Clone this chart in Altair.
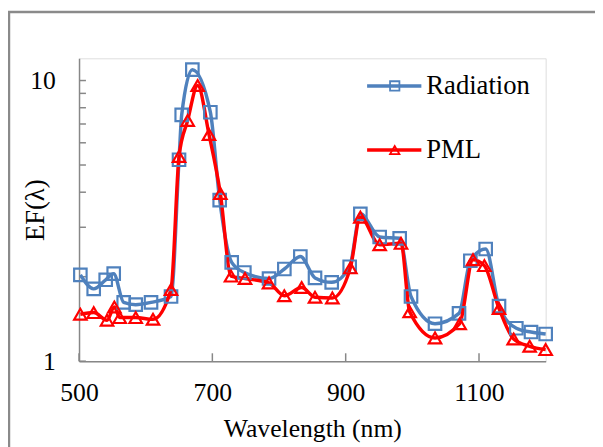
import altair as alt
import pandas as pd

series = ["Radiation", "PML"]

rad_x = [502, 522, 540, 552, 567, 585, 608, 638, 650, 654, 670, 697, 711, 729, 748,
         785, 808, 832, 854, 879, 906, 922, 951, 981, 998, 1034, 1070, 1087, 1110,
         1130, 1156, 1178, 1200]
rad_y = [2.03, 1.81, 1.95, 2.05, 1.62, 1.59, 1.62, 1.70, 5.22, 7.54, 10.93, 7.71,
         3.75, 2.25, 2.07, 1.97, 2.13, 2.36, 1.98, 1.91, 2.17, 3.35, 2.77, 2.74,
         1.70, 1.36, 1.48, 2.28, 2.51, 1.57, 1.31, 1.27, 1.25]

pml_x = [502, 522, 542, 553, 561, 585, 611, 638, 650, 663, 678, 695, 712, 728, 749,
         785, 808, 834, 854, 880, 907, 922, 951, 983, 996, 1034, 1071, 1091, 1108,
         1130, 1152, 1176, 1200]
pml_y = [1.47, 1.49, 1.40, 1.56, 1.43, 1.43, 1.41, 1.80, 5.36, 7.21, 9.60, 6.42,
         3.96, 2.01, 1.97, 1.90, 1.71, 1.83, 1.69, 1.68, 2.15, 3.26, 2.60, 2.63,
         1.50, 1.21, 1.36, 2.30, 2.19, 1.54, 1.20, 1.13, 1.10]

x_ticks = [500, 700, 900, 1100]
y_ticks = [1, 2, 3, 4, 5, 6, 7, 8, 9, 10]
y_labels = [1, 10]

W, H = 473, 307
FONT = "Liberation Serif, Times New Roman, DejaVu Serif, serif"
BLUE = "#4F81BD"
RED = "#FF0000"
AXC = "#878787"
FS = 26

rad = pd.DataFrame({"x": rad_x, "y": rad_y, "s": series[0]})
pml = pd.DataFrame({"x": pml_x, "y": pml_y, "s": series[1]})

xs = alt.Scale(domain=[500, 1200], nice=False, zero=False)
ys = alt.Scale(type="log", domain=[1, 12], nice=False)

xax = alt.Axis(values=x_ticks, format="d", labelFlush=False, tickSize=0,
               domainColor=AXC, domainWidth=1.5, grid=False, labelFont=FONT,
               labelFontSize=FS, labelColor="black", labelPadding=19,
               title="Wavelength (nm)", titleFont=FONT, titleFontSize=26,
               titleFontWeight="normal", titleColor="black", titlePadding=10)
yax = alt.Axis(values=y_labels, format="d", labelFlush=False, tickSize=0,
               domainColor=AXC, domainWidth=1.5, grid=False, labelFont=FONT,
               labelFontSize=FS, labelColor="black", labelPadding=24, title="EF(λ)",
               titleFont=FONT, titleFontSize=27, titleFontWeight="normal",
               titleColor="black", titleAngle=270, titleAlign="center",
               titleBaseline="middle", titleX=-44, titleY=H / 2)

base_axes = alt.Chart(pd.DataFrame({"x": [500], "y": [1]})).mark_point(opacity=0).encode(
    x=alt.X("x:Q", scale=xs, axis=xax),
    y=alt.Y("y:Q", scale=ys, axis=yax),
)

xt = alt.Chart(pd.DataFrame({"x": x_ticks})).mark_rule(color=AXC, strokeWidth=1.5).encode(
    x=alt.X("x:Q", scale=xs), y=alt.value(H - 8), y2=alt.value(H))
yt = alt.Chart(pd.DataFrame({"y": y_ticks})).mark_rule(color=AXC, strokeWidth=1.5).encode(
    y=alt.Y("y:Q", scale=ys), x=alt.value(0), x2=alt.value(7))


def series_layers(df, color, shape):
    line = alt.Chart(df).mark_line(color=color, strokeWidth=3.5, interpolate="monotone").encode(
        x=alt.X("x:Q", scale=xs), y=alt.Y("y:Q", scale=ys))
    pts = alt.Chart(df).mark_point(shape=shape, filled=False, color=color, size=160,
                                   strokeWidth=2.2, opacity=1).encode(
        x=alt.X("x:Q", scale=xs), y=alt.Y("y:Q", scale=ys))
    return line, pts


rl, rp = series_layers(rad, BLUE, "square")
pl, pp = series_layers(pml, RED, "triangle-up")


def legend_item(name, color, shape, yv):
    d = pd.DataFrame({"label": [name]})
    ln = alt.Chart(d).mark_rule(color=color, strokeWidth=3.5).encode(
        x=alt.value(292), x2=alt.value(347), y=alt.value(yv))
    mk = alt.Chart(d).mark_point(shape=shape, filled=False, color=color, size=90,
                                 strokeWidth=1.8, opacity=1).encode(
        x=alt.value(320), y=alt.value(yv))
    tx = alt.Chart(d).mark_text(align="left", baseline="middle", font=FONT,
                                fontSize=27, color="black").encode(
        x=alt.value(352), y=alt.value(yv), text="label:N")
    return [ln, mk, tx]


frame = alt.Chart(pd.DataFrame({"a": [0]})).mark_rect(
    filled=False, stroke="#8a8a8a", strokeWidth=2.5).encode(
    x=alt.value(-71), x2=alt.value(W + 80), y=alt.value(-47), y2=alt.value(H + 120))

layers = [frame, base_axes, xt, yt, rl, pl, rp, pp]
layers += legend_item(series[0], BLUE, "square", 28)
layers += legend_item(series[1], RED, "triangle-up", 93)

chart = alt.layer(*layers).properties(
    width=W, height=H,
    autosize=alt.AutoSizeParams(type="none"),
    padding={"left": 72, "top": 48, "right": 50, "bottom": 84},
).configure_view(stroke=None).configure(background="white")

chart.save("out.html", embed_options={"renderer": "svg", "actions": False})
